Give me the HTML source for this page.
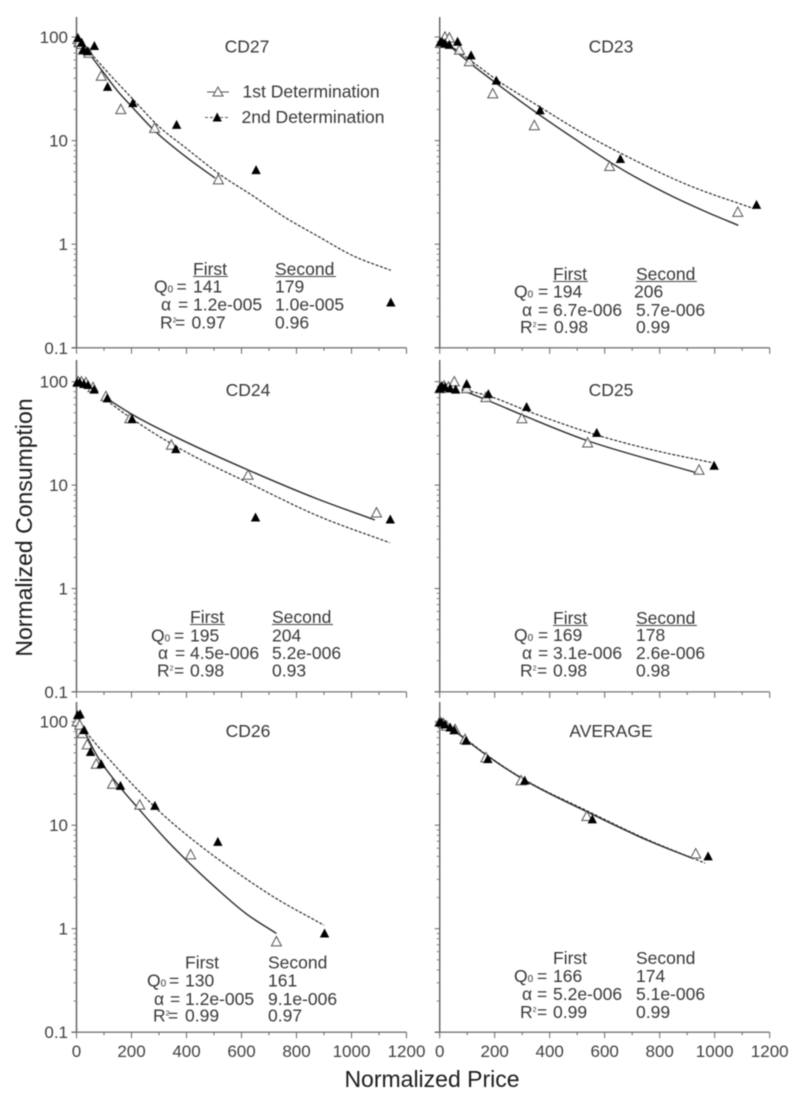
<!DOCTYPE html>
<html lang="en">
<head>
<meta charset="utf-8">
<title>Normalized demand curves</title>
<style>
html,body{margin:0;padding:0;background:#fff;}
svg{display:block;width:800px;height:1100px;filter:blur(0.55px);font-family:"Liberation Sans",Arial,sans-serif;}
text{fill:#383838;font-size:17.5px;}
.tick{font-size:17px;fill:#404040;}
.axis-title{font-size:23px;fill:#1c1c1c;}
.small{font-size:10px;}
.sup{font-size:7px;}
.rule{stroke:#444;stroke-width:1;}
</style>
</head>
<body>
<svg id="chart" xmlns="http://www.w3.org/2000/svg" width="800" height="1100" viewBox="0 0 800 1100">
  <rect width="800" height="1100" fill="#fff"/>

  <g id="panel-0"></g>
  <g id="panel-1"></g>
  <g id="panel-2"></g>
  <g id="panel-3"></g>
  <g id="panel-4"></g>
  <g id="panel-5"></g>

  <text class="axis-title" transform="translate(32,527.5) rotate(-90)" text-anchor="middle">Normalized Consumption</text>
  <text class="axis-title" x="432" y="1087" text-anchor="middle">Normalized Price</text>

  <text x="247" y="52.5" text-anchor="middle">CD27</text>
  <text x="611" y="52.5" text-anchor="middle">CD23</text>
  <text x="248" y="396" text-anchor="middle">CD24</text>
  <text x="611" y="396" text-anchor="middle">CD25</text>
  <text x="248" y="737" text-anchor="middle">CD26</text>
  <text x="611" y="737" text-anchor="middle">AVERAGE</text>

  <g>
    <g>
      <line x1="207" y1="92" x2="229" y2="92" stroke="#555" stroke-width="1.1"/>
      <polygon points="213,96 223,96 218,87" fill="#fff" stroke="#555" stroke-width="1"/>
      <text x="242.5" y="97.5">1st Determination</text>
    </g>
    <g>
      <line x1="205" y1="117.5" x2="229" y2="117.5" stroke="#555" stroke-width="1.1" stroke-dasharray="3 2"/>
      <polygon points="212.6,121.5 221.8,121.5 217.2,112.5" fill="#000"/>
      <text x="241.5" y="123">2nd Determination</text>
    </g>
  </g>

  <g>
    <text x="193" y="275">First</text><text x="275" y="275">Second</text>
    <line class="rule" x1="193" y1="276.5" x2="228" y2="276.5"/><line class="rule" x1="275" y1="276.5" x2="336" y2="276.5"/>
    <text x="154" y="292.7">Q<tspan class="small">0</tspan></text><text x="176.5" y="292.7">=</text><text x="193" y="292.7">141</text><text x="275" y="292.7">179</text>
    <text x="161" y="310.7">α</text><text x="178" y="310.7">=</text><text x="193" y="310.7">1.2e-005</text><text x="275" y="310.7">1.0e-005</text>
    <text x="160" y="328.3">R<tspan class="sup" dy="-6">2</tspan></text><text x="175" y="328.3">=</text><text x="191.5" y="328.3">0.97</text><text x="275" y="328.3">0.96</text>
  </g>
  <g>
    <text x="553" y="280">First</text><text x="636" y="280">Second</text>
    <line class="rule" x1="553" y1="281.5" x2="588" y2="281.5"/><line class="rule" x1="636" y1="281.5" x2="697" y2="281.5"/>
    <text x="514" y="297.7">Q<tspan class="small">0</tspan></text><text x="538" y="297.7">=</text><text x="553" y="297.7">194</text><text x="634" y="297.7">206</text>
    <text x="522" y="316">α</text><text x="538" y="316">=</text><text x="553" y="316">6.7e-006</text><text x="636" y="316">5.7e-006</text>
    <text x="520" y="333">R<tspan class="sup" dy="-6">2</tspan></text><text x="537" y="333">=</text><text x="554" y="333">0.98</text><text x="636" y="333">0.99</text>
  </g>
  <g>
    <text x="190" y="623">First</text><text x="272" y="623">Second</text>
    <line class="rule" x1="190" y1="624.5" x2="225" y2="624.5"/><line class="rule" x1="272" y1="624.5" x2="333" y2="624.5"/>
    <text x="151" y="641.7">Q<tspan class="small">0</tspan></text><text x="174" y="641.7">=</text><text x="190" y="641.7">195</text><text x="272" y="641.7">204</text>
    <text x="158" y="659">α</text><text x="175" y="659">=</text><text x="190" y="659">4.5e-006</text><text x="272" y="659">5.2e-006</text>
    <text x="157" y="676.7">R<tspan class="sup" dy="-6">2</tspan></text><text x="174" y="676.7">=</text><text x="190" y="676.7">0.98</text><text x="272" y="676.7">0.93</text>
  </g>
  <g>
    <text x="553" y="624">First</text><text x="636" y="624">Second</text>
    <line class="rule" x1="553" y1="625.5" x2="588" y2="625.5"/><line class="rule" x1="636" y1="625.5" x2="697" y2="625.5"/>
    <text x="514" y="641">Q<tspan class="small">0</tspan></text><text x="538" y="641">=</text><text x="553" y="641">169</text><text x="636" y="641">178</text>
    <text x="522" y="659">α</text><text x="538" y="659">=</text><text x="553" y="659">3.1e-006</text><text x="636" y="659">2.6e-006</text>
    <text x="520" y="676.7">R<tspan class="sup" dy="-6">2</tspan></text><text x="537" y="676.7">=</text><text x="553" y="676.7">0.98</text><text x="636" y="676.7">0.98</text>
  </g>
  <g>
    <text x="185" y="968.7">First</text><text x="268" y="968.7">Second</text>
    <text x="147" y="986.7">Q<tspan class="small">0</tspan></text><text x="169" y="986.7">=</text><text x="185" y="986.7">130</text><text x="268" y="986.7">161</text>
    <text x="154" y="1005">α</text><text x="170" y="1005">=</text><text x="185" y="1005">1.2e-005</text><text x="268" y="1005">9.1e-006</text>
    <text x="153" y="1021.7">R<tspan class="sup" dy="-6">2</tspan></text><text x="168" y="1021.7">=</text><text x="185" y="1021.7">0.99</text><text x="268" y="1021.7">0.97</text>
  </g>
  <g>
    <text x="553" y="964">First</text><text x="636" y="964">Second</text>
    <text x="514" y="982">Q<tspan class="small">0</tspan></text><text x="537" y="982">=</text><text x="553" y="982">166</text><text x="636" y="982">174</text>
    <text x="522" y="1000">α</text><text x="537" y="1000">=</text><text x="553" y="1000">5.2e-006</text><text x="636" y="1000">5.1e-006</text>
    <text x="520" y="1018">R<tspan class="sup" dy="-6">2</tspan></text><text x="537" y="1018">=</text><text x="553" y="1018">0.99</text><text x="636" y="1018">0.99</text>
  </g>
</svg>
<script>
// Axis tick values and labels
const xTickValues = [0,100,200,300,400,500,600,700,800,900,1000,1100,1200];
const xTickLabels = ["0","200","400","600","800","1000","1200"];
const yDecades = [100,10,1,0.1];
const yTickLabels = ["100","10","1","0.1"];
const yMinorMultipliers = [2,3,4,5,6,7,8,9];

// CD27
const cd27FirstX = [5,10,18,25,45,90,161,284,516];
const cd27FirstY = [95,90,85,75,70,42,20,13.2,4.2];
const cd27SecondX = [5,19,25,40,65,113,205,364,653,1143];
const cd27SecondY = [98,88,75,73,82,33,23,14.2,5.2,0.274];
const cd27FirstFitX = [30,50,100,150,200,286,400,504];
const cd27FirstFitY = [79,67,44.7,30,21.4,12.3,6.9,4.35];
const cd27SecondFitX = [30,50,100,207,292,400,522,644,753,874,1007,1143];
const cd27SecondFitY = [83,71,50,24.8,14.3,8.4,4.7,2.9,1.85,1.21,0.77,0.56];

// CD23
const cd23FirstX = [3,19,35,72,108,193,344,618,1084];
const cd23FirstY = [87,100,98,75,58,28.4,14,5.65,2.04];
const cd23SecondX = [2,10,19,35,65,114,206,365,657,1152];
const cd23SecondY = [89,89,87,84,90,66.5,38,19.6,6.65,2.4];
const cd23FirstFitX = [38,110,207,353,486,644,850,971,1086];
const cd23FirstFitY = [81,56,35.5,18.5,10.6,5.65,2.86,2.04,1.52];
const cd23SecondFitX = [38,110,207,371,498,668,898,1141];
const cd23SecondFitY = [83,60,38.7,20.6,12.8,7.33,3.77,2.21];

// CD24
const cd24FirstX = [6,18,34,60,107,194,345,624,1091];
const cd24FirstY = [100,100,98,88,72,44,24.4,12.5,5.4];
const cd24SecondX = [2,12,27,42,64,112,202,361,651,1141];
const cd24SecondY = [98,98,95,93,84,69,43.5,22.3,4.87,4.65];
const cd24FirstFitX = [109,206,364,624,873,1085];
const cd24FirstFitY = [69,47.6,28.9,14,7.4,4.6];
const cd24SecondFitX = [109,206,364,642,873,1139];
const cd24SecondFitY = [66,43,23.5,10,5.1,2.77];

// CD25
const cd25FirstX = [1,16,32,53,98,168,299,538,943];
const cd25FirstY = [86,91,89,100,86,70.5,44,25.7,14];
const cd25SecondX = [0,7,19,38,58,98,177,316,571,998];
const cd25SecondY = [86,91,89,86,84,95,76,57,32,15.4];
const cd25FirstFitX = [80,171,316,535,753,941];
const cd25FirstFitY = [83,66.5,45.8,27,18,13];
const cd25SecondFitX = [80,183,328,571,777,995];
const cd25SecondFitY = [85,72,51,30.5,21.8,16.4];

// CD26
const cd26FirstX = [2,12,21,39,72,131,230,415,727];
const cd26FirstY = [100,93,77,60,39,25,15.7,5.2,0.75];
const cd26SecondX = [4,13,28,51,90,160,285,514,902];
const cd26SecondY = [116,118,83,51,39,24,15.4,6.9,0.9];
const cd26FirstFitX = [24,73,139,230,327,424,509,618,727];
const cd26FirstFitY = [86,47.6,27,14,7.2,3.97,2.45,1.39,0.9];
const cd26SecondFitX = [24,85,206,303,448,570,715,900];
const cd26SecondFitY = [86,55,24.4,13.5,6.4,3.7,2.04,1.08];

// AVERAGE
const averageFirstX = [1,13,25,56,92,168,296,535,931];
const averageFirstY = [100,96,91,84,67.5,45,27,12.2,5.3];
const averageSecondX = [0,7,19,38,53,96,175,309,555,976];
const averageSecondY = [98,98,94,88,83,65.5,43.5,27,11.4,5];
const averageFirstFitX = [50,98,177,304,535,753,922];
const averageFirstFitY = [83,66,46,27.7,13.5,7.2,4.75];
const averageSecondFitX = [50,98,177,304,535,753,965];
const averageSecondFitY = [84,67,46.5,28,13.8,7.3,4.3];

const firstPointsX = [cd27FirstX,cd23FirstX,cd24FirstX,cd25FirstX,cd26FirstX,averageFirstX];
const firstPointsY = [cd27FirstY,cd23FirstY,cd24FirstY,cd25FirstY,cd26FirstY,averageFirstY];
const secondPointsX = [cd27SecondX,cd23SecondX,cd24SecondX,cd25SecondX,cd26SecondX,averageSecondX];
const secondPointsY = [cd27SecondY,cd23SecondY,cd24SecondY,cd25SecondY,cd26SecondY,averageSecondY];
const firstFitX = [cd27FirstFitX,cd23FirstFitX,cd24FirstFitX,cd25FirstFitX,cd26FirstFitX,averageFirstFitX];
const firstFitY = [cd27FirstFitY,cd23FirstFitY,cd24FirstFitY,cd25FirstFitY,cd26FirstFitY,averageFirstFitY];
const secondFitX = [cd27SecondFitX,cd23SecondFitX,cd24SecondFitX,cd25SecondFitX,cd26SecondFitX,averageSecondFitX];
const secondFitY = [cd27SecondFitY,cd23SecondFitY,cd24SecondFitY,cd25SecondFitY,cd26SecondFitY,averageSecondFitY];

// Panel layout (geometry only)
const layout = [
  {left:76.5, top:17,  y100:37,    decade:103.6},
  {left:439.7,top:17,  y100:37,    decade:103.6},
  {left:76.5, top:360, y100:381.7, decade:103.4},
  {left:439.7,top:360, y100:381.7, decade:103.4},
  {left:76.5, top:702, y100:721.7, decade:103.5},
  {left:439.7,top:702, y100:721.7, decade:103.5}
];
const SVG_NS = "http://www.w3.org/2000/svg";
const X_PER_UNIT = 330 / 1200;

function xScale(p, v) { return p.left + v * X_PER_UNIT; }
function yScale(p, v) { return p.y100 + (2 - Math.log10(v)) * p.decade; }

function make(parent, tag, attrs) {
  const el = document.createElementNS(SVG_NS, tag);
  for (const k in attrs) el.setAttribute(k, attrs[k]);
  parent.appendChild(el);
  return el;
}

// Cubic through the read points, with tangents weighted for uneven spacing
function smoothPath(pts) {
  const n = pts.length;
  const h = [], s = [], m = [];
  for (let i = 0; i < n - 1; i++) {
    h[i] = pts[i + 1][0] - pts[i][0];
    s[i] = (pts[i + 1][1] - pts[i][1]) / h[i];
  }
  m[0] = s[0];
  m[n - 1] = s[n - 2];
  for (let i = 1; i < n - 1; i++) {
    m[i] = (s[i - 1] * h[i] + s[i] * h[i - 1]) / (h[i - 1] + h[i]);
  }
  let d = "M" + pts[0][0].toFixed(2) + " " + pts[0][1].toFixed(2);
  for (let i = 0; i < n - 1; i++) {
    const c1x = pts[i][0] + h[i] / 3, c1y = pts[i][1] + m[i] * h[i] / 3;
    const c2x = pts[i + 1][0] - h[i] / 3, c2y = pts[i + 1][1] - m[i + 1] * h[i] / 3;
    d += "C" + c1x.toFixed(2) + " " + c1y.toFixed(2) + " " + c2x.toFixed(2) + " " + c2y.toFixed(2) + " " + pts[i + 1][0].toFixed(2) + " " + pts[i + 1][1].toFixed(2);
  }
  return d;
}

function trianglePoints(cx, cy, halfWidth, h) {
  return (cx - halfWidth) + "," + (cy + h * 0.45) + " " + (cx + halfWidth) + "," + (cy + h * 0.45) + " " + cx + "," + (cy - h * 0.55);
}

layout.forEach(function (p, i) {
  const g = document.getElementById("panel-" + i);
  const bottom = yScale(p, 0.1);
  const axisColor = i % 2 ? "#444" : "#666";
  const axisWidth = i % 2 ? 1.2 : 1.5;

  const yAxis = make(g, "line", {x1:p.left, y1:p.top, x2:p.left, y2:bottom, stroke:axisColor, "stroke-width":axisWidth});
  
  
  const xAxis = make(g, "line", {x1:p.left - 5, y1:bottom, x2:xScale(p, 1200), y2:bottom, stroke:"#777", "stroke-width":1.3});
  
  

  xTickValues.forEach(function (v, t) {
    const major = t % 2 === 0;
    const tick = make(g, "line", {x1:xScale(p, v), y1:bottom, x2:xScale(p, v), y2:bottom + (major ? 6 : 3), stroke:"#666", "stroke-width":1});
    
    
  });

  yDecades.forEach(function (d, t) {
    const major = make(g, "line", {x1:p.left - 5, y1:yScale(p, d), x2:p.left, y2:yScale(p, d), stroke:"#666", "stroke-width":1});
    
    
    if (i % 2 === 0) {
      const label = make(g, "text", {x:68, y:yScale(p, d) + 6, "text-anchor":"end", class:"tick"});
      label.textContent = yTickLabels[t];
      
      
    }
    if (d > 0.1) {
      yMinorMultipliers.forEach(function (m) {
        const v = d / 10 * m;
        const minor = make(g, "line", {x1:p.left - 3, y1:yScale(p, v), x2:p.left, y2:yScale(p, v), stroke:"#777", "stroke-width":0.9});
        
        
      });
    }
  });

  if (i >= 4) {
    xTickLabels.forEach(function (lab, t) {
      const label = make(g, "text", {x:xScale(p, Number(lab)), y:1057, "text-anchor":"middle", class:"tick"});
      label.textContent = lab;
      
      
    });
  }

  const solidPts = firstFitX[i].map(function (x, k) { return [xScale(p, x), yScale(p, firstFitY[i][k])]; });
  const solid = make(g, "path", {d:smoothPath(solidPts), fill:"none", stroke:"#2c2c2c", "stroke-width":1.4});
  
  

  const dashedPts = secondFitX[i].map(function (x, k) { return [xScale(p, x), yScale(p, secondFitY[i][k])]; });
  const dashed = make(g, "path", {d:smoothPath(dashedPts), fill:"none", stroke:"#2c2c2c", "stroke-width":1.2, "stroke-dasharray":"3 1.6"});
  
  

  firstPointsX[i].forEach(function (x, k) {
    const m = make(g, "polygon", {points:trianglePoints(xScale(p, x), yScale(p, firstPointsY[i][k]), 5, 9.4), fill:"#fff", "fill-opacity":0.85, stroke:"#555", "stroke-width":1});
    
    
  });
  secondPointsX[i].forEach(function (x, k) {
    const m = make(g, "polygon", {points:trianglePoints(xScale(p, x), yScale(p, secondPointsY[i][k]), 4.7, 9), fill:"#000"});
    
    
  });
});
</script>
</body>
</html>
